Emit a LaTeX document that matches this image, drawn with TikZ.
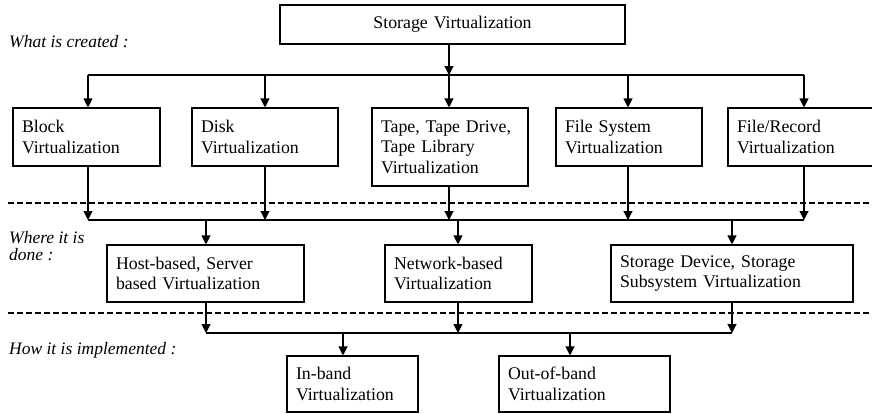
\documentclass[tikz,border=0pt]{standalone}
\usepackage{fontspec}
\setmainfont{Liberation Serif}
\usetikzlibrary{arrows.meta}
\begin{document}
\begin{tikzpicture}[x=1pt,y=-1pt,
  box/.style={draw, line width=1.1pt, inner xsep=9pt, inner ysep=0pt, align=left,
    font=\fontsize{17.8}{20.5}\selectfont},
  lbl/.style={anchor=west, inner sep=0pt, align=left,
    font=\fontsize{17.5}{17}\selectfont\itshape},
  arr/.style={line width=1.1pt, -{Triangle[length=9pt,width=9pt]}},
  ln/.style={line width=1.1pt},
  sep/.style={line width=1.1pt, dash pattern=on 6pt off 3pt}]
\useasboundingbox (0,0) rectangle (872,413);
\clip (0,0) rectangle (872,413);

% labels
\node[lbl] (l1) at (9,42) {What is created :};
\node[lbl] (l2) at (9,246.5) {Where it is\\done :};
\node[lbl] (l3) at (9,350) {How it is implemented :};

% separators
\draw[sep] (8,203) -- (872,203);
\draw[sep] (8,313) -- (872,313);

% boxes
\node[box, align=center, text width=327pt, minimum height=39pt] (top) at (452.5,24.5) {Storage Virtualization};

\node[box, text width=129pt, minimum height=58pt] (b1) at (86.5,137) {Block\\Virtualization};
\node[box, text width=128pt, minimum height=58pt] (b2) at (265,137) {Disk\\Virtualization};
\node[box, text width=138pt, minimum height=78pt] (b3) at (450,147) {Tape, Tape Drive,\\Tape Library\\Virtualization};
\node[box, text width=128pt, minimum height=58pt] (b4) at (629,137) {File System\\Virtualization};
\node[box, text width=134pt, minimum height=58pt] (b5) at (804,137) {File/Record\\Virtualization};

\node[box, text width=179pt, minimum height=57pt] (h1) at (205.5,273.5) {Host-based, Server\\based Virtualization};
\node[box, text width=129pt, minimum height=57pt] (h2) at (458.5,273.5) {Network-based\\Virtualization};
\node[box, text width=224pt, minimum height=57pt] (h3) at (732,273.5) {Storage Device, Storage\\Subsystem Virtualization};

\node[box, text width=113pt, minimum height=56pt] (i1) at (352.5,384) {In-band\\Virtualization};
\node[box, text width=153pt, minimum height=56pt] (i2) at (584.5,384) {Out-of-band\\Virtualization};

% connector positions
\coordinate (c1) at (88,0);
\coordinate (c2) at (265,0);
\coordinate (c3) at (449,0);
\coordinate (c4) at (628,0);
\coordinate (c5) at (804,0);
\coordinate (d1) at (206,0);
\coordinate (d2) at (458,0);
\coordinate (d3) at (732,0);
\coordinate (e1) at (343,0);
\coordinate (e2) at (570,0);
\coordinate (bus1) at (0,75);
\coordinate (bus2) at (0,220);
\coordinate (bus3) at (0,333);

% connectors
\draw[arr] (top.south -| c3) -- (c3 |- bus1);
\draw[ln] (c1 |- bus1) -- (c5 |- bus1);
\foreach \i in {1,...,5} \draw[arr] (c\i |- bus1) -- (c\i |- b\i.north);
\foreach \i in {1,...,5} \draw[arr] (c\i |- b\i.south) -- (c\i |- bus2);
\draw[ln] (c1 |- bus2) -- (c5 |- bus2);
\foreach \i in {1,2,3} \draw[arr] (d\i |- bus2) -- (d\i |- h\i.north);
\foreach \i in {1,2,3} \draw[arr] (d\i |- h\i.south) -- (d\i |- bus3);
\draw[ln] (d1 |- bus3) -- (d3 |- bus3);
\foreach \i in {1,2} \draw[arr] (e\i |- bus3) -- (e\i |- i\i.north);
\end{tikzpicture}
\end{document}
